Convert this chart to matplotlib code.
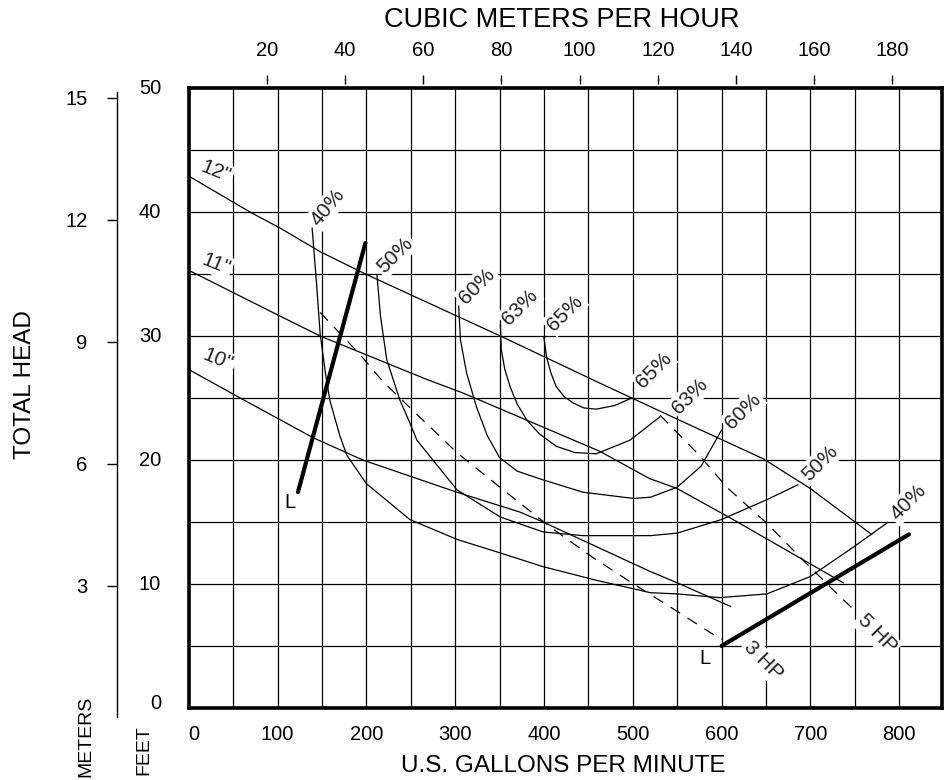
"""
Pump performance curve - head vs flow
"""

# ==============================================================================
# IMPORTS
# ==============================================================================
import numpy as np
import matplotlib
matplotlib.use("Agg")
import matplotlib.pyplot as plt

plt.rcParams['font.family'] = ['Liberation Sans', 'DejaVu Sans']

# ==============================================================================
# DATA (flow in US GPM, head in feet)
# ==============================================================================
imp12_gpm = [0, 69, 103, 148, 199, 351, 463, 499, 553, 647, 700, 769]
imp12_ft = [42.9, 40.0, 38.7, 36.8, 35.0, 30.0, 26.2, 25.0, 23.2, 20.1, 17.7, 14.0]

imp11_gpm = [0, 103, 148, 268, 309, 463, 519, 550, 613, 703, 737]
imp11_ft = [35.3, 31.6, 30.0, 26.5, 25.4, 20.7, 18.5, 17.7, 15.2, 11.5, 10.1]

imp10_gpm = [0, 58, 140, 196, 302, 373, 399, 520, 550, 610]
imp10_ft = [27.3, 25.0, 21.8, 20.0, 17.4, 15.8, 15.0, 11.0, 10.1, 8.2]

eff40_gpm = [139, 144, 148, 154, 159, 170, 178, 200, 249, 302, 351, 399, 459, 520, 550, 598, 651, 700, 749, 786]
eff40_ft = [38.7, 34.2, 30.2, 27.0, 24.8, 22.0, 20.4, 18.1, 15.2, 13.6, 12.5, 11.4, 10.3, 9.3, 9.2, 8.9, 9.2, 10.6, 13.0, 14.9]

eff50_gpm = [212, 216, 223, 238, 249, 257, 302, 351, 399, 444, 520, 550, 600, 651, 686]
eff50_ft = [34.9, 31.6, 28.1, 24.8, 23.0, 21.6, 17.6, 15.4, 14.2, 13.9, 13.9, 14.1, 15.2, 16.8, 18.0]

eff60_gpm = [304, 306, 313, 324, 336, 350, 370, 399, 444, 501, 520, 550, 577, 600]
eff60_ft = [32.4, 29.7, 27.0, 24.3, 22.0, 20.2, 19.1, 18.4, 17.4, 16.9, 17.0, 17.8, 19.5, 22.4]

eff63_gpm = [351, 352, 356, 362, 370, 381, 395, 414, 435, 459, 497, 531]
eff63_ft = [30.9, 28.9, 27.3, 25.9, 24.5, 23.2, 22.1, 21.1, 20.6, 20.5, 21.6, 23.5]

eff65_gpm = [400, 403, 408, 414, 423, 433, 445, 459, 480, 499]
eff65_ft = [29.9, 28.3, 27.0, 25.9, 25.1, 24.6, 24.2, 24.1, 24.4, 25.0]

hp3_gpm = [148, 193, 219, 264, 302, 354, 407, 456, 501, 550, 600]
hp3_ft = [31.9, 28.5, 26.3, 23.2, 20.6, 17.6, 14.6, 12.1, 10.0, 7.8, 5.5]

hp5_gpm = [531, 553, 576, 606, 651, 688, 726, 748]
hp5_ft = [23.6, 22.0, 20.3, 17.8, 14.9, 12.2, 9.5, 8.0]

limit_left_gpm = [123, 199]
limit_left_ft = [17.4, 37.5]
limit_right_gpm = [600, 811]
limit_right_ft = [5.0, 14.0]

gpm_ticks = [0, 100, 200, 300, 400, 500, 600, 700, 800]
feet_ticks = [0, 10, 20, 30, 40, 50]
meter_ticks = [3, 6, 9, 12, 15]
m3h_ticks = [20, 40, 60, 80, 100, 120, 140, 160, 180]

GPM_PER_M3H = 4.4029
FT_PER_M = 3.2808

# ==============================================================================
# FIGURE
# ==============================================================================
W, H = 946, 780
fig = plt.figure(figsize=(W / 100, H / 100), dpi=100)

# plot box in pixels
x0, x1, ytop, ybot = 188.7, 942.0, 88.0, 708.0
px_per_gpm = 0.888
px_per_ft = (ybot - ytop) / 50.0

ax = fig.add_axes([x0 / W, 1 - ybot / H, (x1 - x0) / W, (ybot - ytop) / H])
ax.set_xlim(0, (x1 - x0) / px_per_gpm)
ax.set_ylim(0, 50)

# grid
ax.set_xticks(np.arange(0, 849, 50))
ax.set_yticks(np.arange(0, 51, 5))
ax.grid(True, color='black', lw=0.9)
ax.tick_params(length=0)
ax.set_xticklabels([])
ax.set_yticklabels([])
for s in ax.spines.values():
    s.set_linewidth(2.6)

TICK_FS = 14.5

# x labels (GPM)
for v in gpm_ticks:
    ax.text(v, -1.4, str(v), ha='left' if v == 0 else 'center', va='top', fontsize=TICK_FS)
# y labels (feet)
for v in feet_ticks:
    ax.text(-31, v + (0.35 if v == 0 else 0), str(v), ha='right', va='center', fontsize=TICK_FS)

# top axis (m3/h)
sec = ax.secondary_xaxis('top', functions=(lambda q: q / GPM_PER_M3H, lambda m: m * GPM_PER_M3H))
sec.set_xticks(m3h_ticks)
sec.spines['top'].set_visible(False)
sec.spines['top'].set_position(('outward', 3))
sec.tick_params(direction='out', length=6.5, width=1.0, pad=11, labelsize=TICK_FS)

# meter axis
m_lo = -((717 - ybot) / px_per_ft) / FT_PER_M
m_hi = ((ybot - 92) / px_per_ft) / FT_PER_M
axm = fig.add_axes([117 / W, 1 - 717 / H, 0.0001, (717 - 92) / H])
axm.set_ylim(m_lo, m_hi)
axm.set_xticks([])
axm.set_yticks(meter_ticks)
for side in ['top', 'right', 'bottom']:
    axm.spines[side].set_visible(False)
axm.spines['left'].set_linewidth(1.0)
axm.tick_params(axis='y', direction='out', length=7.2, width=1.0, pad=14, labelsize=TICK_FS)
axm.patch.set_visible(False)

# ==============================================================================
# CURVES
# ==============================================================================
thin = dict(color='black', lw=0.9, zorder=3)
for g, f in [(imp12_gpm, imp12_ft), (imp11_gpm, imp11_ft), (imp10_gpm, imp10_ft),
             (eff40_gpm, eff40_ft), (eff50_gpm, eff50_ft), (eff60_gpm, eff60_ft),
             (eff63_gpm, eff63_ft), (eff65_gpm, eff65_ft)]:
    ax.plot(g, f, **thin)

for g, f in [(hp3_gpm, hp3_ft), (hp5_gpm, hp5_ft)]:
    ax.plot(g, f, color='black', lw=0.9, ls=(0, (9, 7)), zorder=3)

ax.plot(limit_left_gpm, limit_left_ft, color='black', lw=3.0, solid_capstyle='round', zorder=4)
ax.plot(limit_right_gpm, limit_right_ft, color='black', lw=3.0, solid_capstyle='round', zorder=4)

# ==============================================================================
# LABELS
# ==============================================================================
def px2data(px, py):
    return (px - x0) / px_per_gpm, (ybot - py) / px_per_ft

box = dict(facecolor='white', edgecolor='none', pad=1.5)
labels = [
    ('12"', 216, 172, -22), ('11"', 216, 264, -22), ('10"', 218, 360, -22),
    ('40%', 328, 207, 50), ('50%', 395, 255, 45), ('60%', 477, 286, 45),
    ('63%', 520, 307, 45), ('65%', 565, 313, 45),
    ('65%', 654, 370, 45), ('63%', 690, 396, 45), ('60%', 743, 411, 45),
    ('50%', 820, 463, 45), ('40%', 908, 502, 45),
    ('3 HP', 763, 661, -45), ('5 HP', 877, 634, -45),
]
for txt, px, py, rot in labels:
    gx, fy = px2data(px, py)
    ax.text(gx, fy, txt, rotation=rot, rotation_mode='anchor', ha='center', va='center',
            fontsize=15, color='#222222', bbox=box, zorder=6)

for px, py in [(290, 503), (705, 658)]:
    gx, fy = px2data(px, py)
    ax.text(gx, fy, 'L', ha='center', va='center', fontsize=14.5, zorder=6)

# axis titles
fig.text(562 / W, 1 - 20 / H, 'CUBIC METERS PER HOUR', ha='center', va='center', fontsize=19.5)
fig.text(563 / W, 1 - 766 / H, 'U.S. GALLONS PER MINUTE', ha='center', va='center', fontsize=17.5)
fig.text(25 / W, 1 - 385 / H, 'TOTAL HEAD', ha='center', va='center', rotation=90, fontsize=17.5)
fig.text(86 / W, 1 - 777 / H, 'METERS', ha='center', va='bottom', rotation=90, fontsize=14)
fig.text(144 / W, 1 - 775 / H, 'FEET', ha='center', va='bottom', rotation=90, fontsize=14)

fig.savefig('out.png', dpi=100)
